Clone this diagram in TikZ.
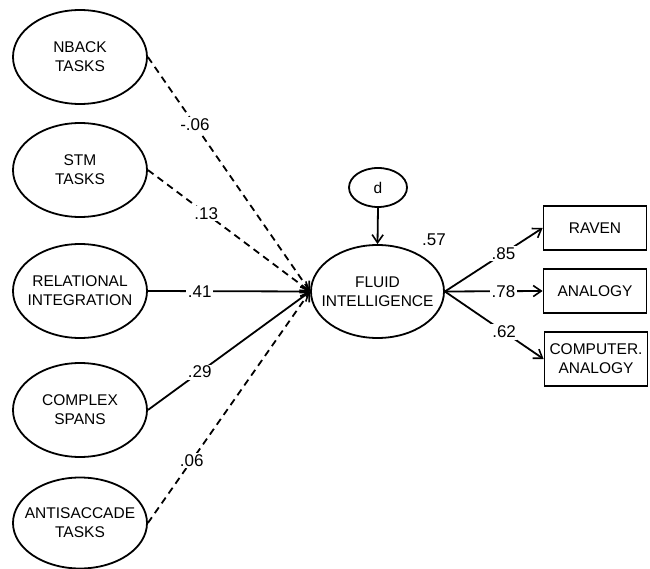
\documentclass[tikz,border=0pt]{standalone}
\usepackage{fontspec}
\setmainfont{Liberation Sans}
\usetikzlibrary{shapes.geometric,arrows.meta}
\begin{document}
\begin{tikzpicture}[x=1pt,y=-1pt,
  line width=1.8pt,
  nodefont/.style={font=\fontsize{15.5}{19}\selectfont},
  lat/.style={ellipse,draw,minimum width=134pt,minimum height=94pt,inner sep=0pt,
    label={[align=center,nodefont,inner sep=0pt]center:#1}},
  obs/.style={rectangle,draw,minimum width=103pt,minimum height=44pt,inner sep=1pt,align=center,nodefont},
  dist/.style={ellipse,draw,minimum width=58pt,minimum height=39pt,inner sep=0pt,nodefont},
  path/.style={-{Straight Barb[length=8pt,width=11pt,line width=1.6pt]}},
  dpath/.style={path,dash pattern=on 7pt off 5pt},
  lab/.style={fill=white,inner sep=1.5pt,font=\fontsize{17}{19}\selectfont}]
\useasboundingbox (0,0) rectangle (650,569);
\node[lat={NBACK\\TASKS}] (nback) at (80,57) {};
\node[lat={STM\\TASKS}] (stm) at (80,170) {};
\node[lat={RELATIONAL\\INTEGRATION}] (rel) at (80,291) {};
\node[lat={COMPLEX\\SPANS}] (cspan) at (80,410) {};
\node[lat={ANTISACCADE\\TASKS},minimum height=91pt] (anti) at (80,523) {};
\node[lat={FLUID\\INTELLIGENCE},minimum height=93pt,minimum width=133pt] (gf) at (377.5,291.5) {};
\node[dist] (d) at (378,187.5) {d};
\node[obs] (raven) at (595,228) {RAVEN};
\node[obs] (analogy) at (595,291) {ANALOGY};
\node[obs,minimum height=54pt] (comp) at (596,359) {COMPUTER.\\ANALOGY};
\node[font=\fontsize{17}{19}\selectfont] (r2) at (434,240) {.57};
\draw[dpath] (nback.east) -- node[lab,pos=0.29] {-.06} (gf.west);
\draw[dpath] (stm.east) -- node[lab,pos=0.36] {.13} (gf.west);
\draw[path] (rel.east) -- node[lab,pos=0.32] {.41} (gf.west);
\draw[path] (cspan.east) -- node[lab,pos=0.32] {.29} (gf.west);
\draw[dpath] (anti.east) -- node[lab,pos=0.27] {.06} (gf.west);
\draw[path] (d.south) -- (gf.north);
\draw[path] (gf.east) -- node[lab,pos=0.6] {.85} (raven.west);
\draw[path] (gf.east) -- node[lab,pos=0.6] {.78} (analogy.west);
\draw[path] (gf.east) -- node[lab,pos=0.6] {.62} (comp.west);
\end{tikzpicture}
\end{document}
